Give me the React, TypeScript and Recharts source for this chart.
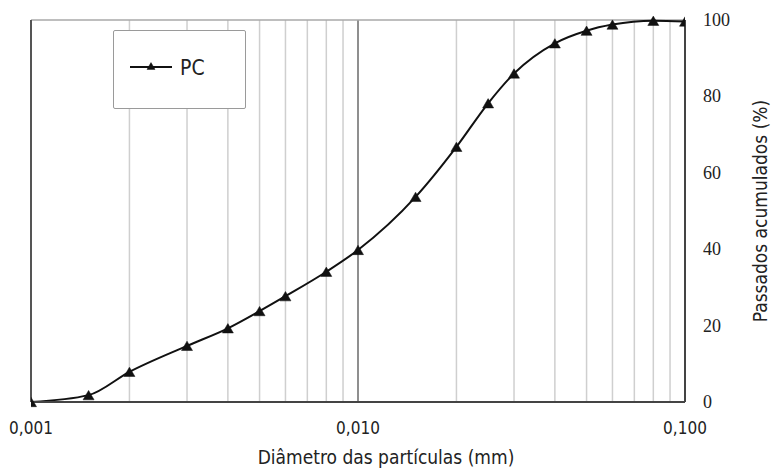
import React from "react";
import {
  LineChart,
  Line,
  XAxis,
  YAxis,
  ReferenceLine,
  Legend,
  Label,
} from "recharts";

// Particle diameter (mm) and cumulative passing (%)
const diameters = [
  0.001, 0.0015, 0.002, 0.003, 0.004, 0.005, 0.006, 0.008, 0.01, 0.015, 0.02,
  0.025, 0.03, 0.04, 0.05, 0.06, 0.08, 0.1,
];
const passingPC = [
  0, 1.8, 7.9, 14.7, 19.3, 23.8, 27.7, 34.1, 39.8, 53.7, 66.8, 78.2, 86, 93.9,
  97.2, 98.8, 99.8, 99.6,
];

const xTicks = [0.001, 0.01, 0.1];
const xTickLabels = ["0,001", "0,010", "0,100"];
const yTicks = [0, 20, 40, 60, 80, 100];
const minorGrid = [
  0.002, 0.003, 0.004, 0.005, 0.006, 0.007, 0.008, 0.009, 0.02, 0.03, 0.04,
  0.05, 0.06, 0.07, 0.08, 0.09,
];

const seriesName = "PC";
const xTitle = "Diâmetro das partículas (mm)";
const yTitle = "Passados acumulados (%)";

const data = diameters.map((d, i) => ({ d, pc: passingPC[i] }));

const sansFont = "'DejaVu Sans Condensed', 'DejaVu Sans', sans-serif";
const serifFont = "'Liberation Serif', 'Times New Roman', serif";

const Triangle = (props: any) => {
  const { cx, cy, size = 11 } = props;
  if (cx == null || cy == null) return null;
  const h = size * 0.85;
  const d = `M${cx},${cy - h / 2} L${cx + size / 2},${cy + h / 2} L${cx - size / 2},${cy + h / 2} Z`;
  return <path key={`${cx}-${cy}`} d={d} fill="#111" stroke="#111" strokeWidth={0.5} />;
};

// Serif value labels on the right-hand axis
const YTick = (props: any) => {
  const { x, y, payload } = props;
  return (
    <text
      x={x}
      y={y}
      dy={6}
      textAnchor="start"
      fontFamily={serifFont}
      fontSize={18}
      fill="#222"
    >
      {payload.value}
    </text>
  );
};

const LegendBox = () => (
  <div
    style={{
      width: 131,
      height: 77,
      border: "1.5px solid #9a9a9a",
      borderRadius: 2,
      background: "#fff",
      position: "relative",
    }}
  >
    <svg width={131} height={77} style={{ position: "absolute", left: 0, top: 0 }}>
      <line x1={16} y1={36} x2={58} y2={36} stroke="#111" strokeWidth={2} />
      <Triangle cx={37} cy={35} size={8} />
      <text x={66} y={44} fontFamily={sansFont} fontSize={21} fill="#222">
        {seriesName}
      </text>
    </svg>
  </div>
);

export default function App() {
  return (
    <div style={{ position: "absolute", left: 0, top: 0, background: "#fff" }}>
      <LineChart
        width={774}
        height={470}
        data={data}
        margin={{ top: 20, left: 31, right: 5, bottom: 4 }}
      >
        {minorGrid.map((v) => (
          <ReferenceLine key={v} x={v} stroke="#cfcfcf" strokeWidth={1.5} />
        ))}
        <ReferenceLine x={0.01} stroke="#6a6a6a" strokeWidth={1.5} />
        <ReferenceLine y={100} stroke="#a8a8a8" strokeWidth={1.5} />
        <ReferenceLine x={0.001} stroke="#555" strokeWidth={2} />
        <XAxis
          dataKey="d"
          type="number"
          scale="log"
          domain={[0.001, 0.1]}
          ticks={xTicks}
          allowDataOverflow
          tickFormatter={(v: number) => xTickLabels[xTicks.indexOf(v)] ?? String(v)}
          tickLine={false}
          tickSize={0}
          tickMargin={20}
          axisLine={{ stroke: "#444", strokeWidth: 2 }}
          tick={{ fontFamily: sansFont, fontSize: 17, fill: "#222" }}
          height={64}
        >
          <Label
            value={xTitle}
            position="center"
            dx={28}
            dy={23}
            style={{ fontFamily: sansFont, fontSize: 19, fill: "#222" }}
          />
        </XAxis>
        <YAxis
          orientation="right"
          type="number"
          domain={[0, 100]}
          ticks={yTicks}
          tickLine={false}
          tickSize={0}
          tickMargin={18}
          axisLine={{ stroke: "#444", strokeWidth: 2 }}
          tick={<YTick />}
          width={84}
        >
          <Label
            value={yTitle}
            angle={-90}
            position="center"
            dx={33}
            style={{ fontFamily: sansFont, fontSize: 19, fill: "#222" }}
          />
        </YAxis>
        <Legend
          layout="vertical"
          align="center"
          verticalAlign="middle"
          wrapperStyle={{ left: 113, top: 30, width: 133, height: 79 }}
          content={() => <LegendBox />}
        />
        <Line
          dataKey="pc"
          name={seriesName}
          type="monotone"
          stroke="#111"
          strokeWidth={2}
          dot={<Triangle size={11} />}
          activeDot={false}
          isAnimationActive={false}
        />
      </LineChart>
    </div>
  );
}
